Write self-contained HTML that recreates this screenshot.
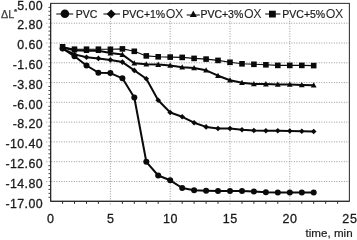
<!DOCTYPE html><html><head><meta charset="utf-8"><title>chart</title>
<style>html,body{margin:0;padding:0;background:#fff;}svg{display:block;font-family:"Liberation Sans",sans-serif;}</style></head><body>
<svg width="357" height="240" viewBox="0 0 357 240">
<rect width="357" height="240" fill="#fff"/>
<line x1="46.35" y1="23.2" x2="349.4" y2="23.2" stroke="#8e8e8e" stroke-width="1" stroke-dasharray="0.9 1.6"/>
<line x1="46.35" y1="43.0" x2="349.4" y2="43.0" stroke="#8e8e8e" stroke-width="1" stroke-dasharray="0.9 1.6"/>
<line x1="46.35" y1="62.8" x2="349.4" y2="62.8" stroke="#8e8e8e" stroke-width="1" stroke-dasharray="0.9 1.6"/>
<line x1="46.35" y1="82.6" x2="349.4" y2="82.6" stroke="#8e8e8e" stroke-width="1" stroke-dasharray="0.9 1.6"/>
<line x1="46.35" y1="102.3" x2="349.4" y2="102.3" stroke="#8e8e8e" stroke-width="1" stroke-dasharray="0.9 1.6"/>
<line x1="46.35" y1="122.1" x2="349.4" y2="122.1" stroke="#8e8e8e" stroke-width="1" stroke-dasharray="0.9 1.6"/>
<line x1="46.35" y1="141.9" x2="349.4" y2="141.9" stroke="#8e8e8e" stroke-width="1" stroke-dasharray="0.9 1.6"/>
<line x1="46.35" y1="161.7" x2="349.4" y2="161.7" stroke="#8e8e8e" stroke-width="1" stroke-dasharray="0.9 1.6"/>
<line x1="46.35" y1="181.5" x2="349.4" y2="181.5" stroke="#8e8e8e" stroke-width="1" stroke-dasharray="0.9 1.6"/>
<line x1="110.4" y1="3.4" x2="110.4" y2="205.8" stroke="#8e8e8e" stroke-width="1" stroke-dasharray="0.9 1.6"/>
<line x1="170.2" y1="3.4" x2="170.2" y2="205.8" stroke="#8e8e8e" stroke-width="1" stroke-dasharray="0.9 1.6"/>
<line x1="230.0" y1="3.4" x2="230.0" y2="205.8" stroke="#8e8e8e" stroke-width="1" stroke-dasharray="0.9 1.6"/>
<line x1="289.8" y1="3.4" x2="289.8" y2="205.8" stroke="#8e8e8e" stroke-width="1" stroke-dasharray="0.9 1.6"/>
<rect x="53" y="5.5" width="294" height="12.7" fill="#fff"/>
<rect x="50.65" y="3.4" width="298.75" height="197.9" fill="none" stroke="#3a3a3a" stroke-width="1.1"/>
<path d="M50.65,3.4 V201.3 H349.4" fill="none" stroke="#262626" stroke-width="1"/>
<line x1="48.449999999999996" y1="7.4" x2="50.65" y2="7.4" stroke="#262626" stroke-width="0.85"/>
<line x1="48.449999999999996" y1="11.3" x2="50.65" y2="11.3" stroke="#262626" stroke-width="0.85"/>
<line x1="48.449999999999996" y1="15.3" x2="50.65" y2="15.3" stroke="#262626" stroke-width="0.85"/>
<line x1="48.449999999999996" y1="19.2" x2="50.65" y2="19.2" stroke="#262626" stroke-width="0.85"/>
<line x1="48.449999999999996" y1="27.1" x2="50.65" y2="27.1" stroke="#262626" stroke-width="0.85"/>
<line x1="48.449999999999996" y1="31.1" x2="50.65" y2="31.1" stroke="#262626" stroke-width="0.85"/>
<line x1="48.449999999999996" y1="35.1" x2="50.65" y2="35.1" stroke="#262626" stroke-width="0.85"/>
<line x1="48.449999999999996" y1="39.0" x2="50.65" y2="39.0" stroke="#262626" stroke-width="0.85"/>
<line x1="48.449999999999996" y1="46.9" x2="50.65" y2="46.9" stroke="#262626" stroke-width="0.85"/>
<line x1="48.449999999999996" y1="50.9" x2="50.65" y2="50.9" stroke="#262626" stroke-width="0.85"/>
<line x1="48.449999999999996" y1="54.9" x2="50.65" y2="54.9" stroke="#262626" stroke-width="0.85"/>
<line x1="48.449999999999996" y1="58.8" x2="50.65" y2="58.8" stroke="#262626" stroke-width="0.85"/>
<line x1="48.449999999999996" y1="66.7" x2="50.65" y2="66.7" stroke="#262626" stroke-width="0.85"/>
<line x1="48.449999999999996" y1="70.7" x2="50.65" y2="70.7" stroke="#262626" stroke-width="0.85"/>
<line x1="48.449999999999996" y1="74.6" x2="50.65" y2="74.6" stroke="#262626" stroke-width="0.85"/>
<line x1="48.449999999999996" y1="78.6" x2="50.65" y2="78.6" stroke="#262626" stroke-width="0.85"/>
<line x1="48.449999999999996" y1="86.5" x2="50.65" y2="86.5" stroke="#262626" stroke-width="0.85"/>
<line x1="48.449999999999996" y1="90.5" x2="50.65" y2="90.5" stroke="#262626" stroke-width="0.85"/>
<line x1="48.449999999999996" y1="94.4" x2="50.65" y2="94.4" stroke="#262626" stroke-width="0.85"/>
<line x1="48.449999999999996" y1="98.4" x2="50.65" y2="98.4" stroke="#262626" stroke-width="0.85"/>
<line x1="48.449999999999996" y1="106.3" x2="50.65" y2="106.3" stroke="#262626" stroke-width="0.85"/>
<line x1="48.449999999999996" y1="110.3" x2="50.65" y2="110.3" stroke="#262626" stroke-width="0.85"/>
<line x1="48.449999999999996" y1="114.2" x2="50.65" y2="114.2" stroke="#262626" stroke-width="0.85"/>
<line x1="48.449999999999996" y1="118.2" x2="50.65" y2="118.2" stroke="#262626" stroke-width="0.85"/>
<line x1="48.449999999999996" y1="126.1" x2="50.65" y2="126.1" stroke="#262626" stroke-width="0.85"/>
<line x1="48.449999999999996" y1="130.1" x2="50.65" y2="130.1" stroke="#262626" stroke-width="0.85"/>
<line x1="48.449999999999996" y1="134.0" x2="50.65" y2="134.0" stroke="#262626" stroke-width="0.85"/>
<line x1="48.449999999999996" y1="138.0" x2="50.65" y2="138.0" stroke="#262626" stroke-width="0.85"/>
<line x1="48.449999999999996" y1="145.9" x2="50.65" y2="145.9" stroke="#262626" stroke-width="0.85"/>
<line x1="48.449999999999996" y1="149.8" x2="50.65" y2="149.8" stroke="#262626" stroke-width="0.85"/>
<line x1="48.449999999999996" y1="153.8" x2="50.65" y2="153.8" stroke="#262626" stroke-width="0.85"/>
<line x1="48.449999999999996" y1="157.8" x2="50.65" y2="157.8" stroke="#262626" stroke-width="0.85"/>
<line x1="48.449999999999996" y1="165.7" x2="50.65" y2="165.7" stroke="#262626" stroke-width="0.85"/>
<line x1="48.449999999999996" y1="169.6" x2="50.65" y2="169.6" stroke="#262626" stroke-width="0.85"/>
<line x1="48.449999999999996" y1="173.6" x2="50.65" y2="173.6" stroke="#262626" stroke-width="0.85"/>
<line x1="48.449999999999996" y1="177.6" x2="50.65" y2="177.6" stroke="#262626" stroke-width="0.85"/>
<line x1="48.449999999999996" y1="185.5" x2="50.65" y2="185.5" stroke="#262626" stroke-width="0.85"/>
<line x1="48.449999999999996" y1="189.4" x2="50.65" y2="189.4" stroke="#262626" stroke-width="0.85"/>
<line x1="48.449999999999996" y1="193.4" x2="50.65" y2="193.4" stroke="#262626" stroke-width="0.85"/>
<line x1="48.449999999999996" y1="197.3" x2="50.65" y2="197.3" stroke="#262626" stroke-width="0.85"/>
<line x1="62.6" y1="201.3" x2="62.6" y2="203.8" stroke="#262626" stroke-width="1"/>
<line x1="74.5" y1="201.3" x2="74.5" y2="203.8" stroke="#262626" stroke-width="1"/>
<line x1="86.5" y1="201.3" x2="86.5" y2="203.8" stroke="#262626" stroke-width="1"/>
<line x1="98.4" y1="201.3" x2="98.4" y2="203.8" stroke="#262626" stroke-width="1"/>
<line x1="122.4" y1="201.3" x2="122.4" y2="203.8" stroke="#262626" stroke-width="1"/>
<line x1="134.3" y1="201.3" x2="134.3" y2="203.8" stroke="#262626" stroke-width="1"/>
<line x1="146.3" y1="201.3" x2="146.3" y2="203.8" stroke="#262626" stroke-width="1"/>
<line x1="158.2" y1="201.3" x2="158.2" y2="203.8" stroke="#262626" stroke-width="1"/>
<line x1="182.2" y1="201.3" x2="182.2" y2="203.8" stroke="#262626" stroke-width="1"/>
<line x1="194.1" y1="201.3" x2="194.1" y2="203.8" stroke="#262626" stroke-width="1"/>
<line x1="206.1" y1="201.3" x2="206.1" y2="203.8" stroke="#262626" stroke-width="1"/>
<line x1="218.0" y1="201.3" x2="218.0" y2="203.8" stroke="#262626" stroke-width="1"/>
<line x1="242.0" y1="201.3" x2="242.0" y2="203.8" stroke="#262626" stroke-width="1"/>
<line x1="253.9" y1="201.3" x2="253.9" y2="203.8" stroke="#262626" stroke-width="1"/>
<line x1="265.9" y1="201.3" x2="265.9" y2="203.8" stroke="#262626" stroke-width="1"/>
<line x1="277.8" y1="201.3" x2="277.8" y2="203.8" stroke="#262626" stroke-width="1"/>
<line x1="301.8" y1="201.3" x2="301.8" y2="203.8" stroke="#262626" stroke-width="1"/>
<line x1="313.7" y1="201.3" x2="313.7" y2="203.8" stroke="#262626" stroke-width="1"/>
<line x1="325.7" y1="201.3" x2="325.7" y2="203.8" stroke="#262626" stroke-width="1"/>
<line x1="337.6" y1="201.3" x2="337.6" y2="203.8" stroke="#262626" stroke-width="1"/>
<text x="43" y="9.7" text-anchor="end" font-size="12.4" letter-spacing="0.4" fill="#1a1a1a" stroke="#1a1a1a" stroke-width="0.3">5.00</text>
<text x="43" y="29.4" text-anchor="end" font-size="12.4" letter-spacing="0.4" fill="#1a1a1a" stroke="#1a1a1a" stroke-width="0.3">2.80</text>
<text x="43" y="49.2" text-anchor="end" font-size="12.4" letter-spacing="0.4" fill="#1a1a1a" stroke="#1a1a1a" stroke-width="0.3">0.60</text>
<text x="43" y="69.0" text-anchor="end" font-size="12.4" letter-spacing="0.4" fill="#1a1a1a" stroke="#1a1a1a" stroke-width="0.3">-1.60</text>
<text x="43" y="88.8" text-anchor="end" font-size="12.4" letter-spacing="0.4" fill="#1a1a1a" stroke="#1a1a1a" stroke-width="0.3">-3.80</text>
<text x="43" y="108.5" text-anchor="end" font-size="12.4" letter-spacing="0.4" fill="#1a1a1a" stroke="#1a1a1a" stroke-width="0.3">-6.00</text>
<text x="43" y="128.3" text-anchor="end" font-size="12.4" letter-spacing="0.4" fill="#1a1a1a" stroke="#1a1a1a" stroke-width="0.3">-8.20</text>
<text x="43" y="148.1" text-anchor="end" font-size="12.4" letter-spacing="0.4" fill="#1a1a1a" stroke="#1a1a1a" stroke-width="0.3">-10.40</text>
<text x="43" y="167.9" text-anchor="end" font-size="12.4" letter-spacing="0.4" fill="#1a1a1a" stroke="#1a1a1a" stroke-width="0.3">-12.60</text>
<text x="43" y="187.7" text-anchor="end" font-size="12.4" letter-spacing="0.4" fill="#1a1a1a" stroke="#1a1a1a" stroke-width="0.3">-14.80</text>
<text x="43" y="207.5" text-anchor="end" font-size="12.4" letter-spacing="0.4" fill="#1a1a1a" stroke="#1a1a1a" stroke-width="0.3">-17.00</text>
<text x="50.9" y="223" text-anchor="middle" font-size="12.5" letter-spacing="0.6" fill="#1a1a1a" stroke="#1a1a1a" stroke-width="0.3">0</text>
<text x="110.7" y="223" text-anchor="middle" font-size="12.5" letter-spacing="0.6" fill="#1a1a1a" stroke="#1a1a1a" stroke-width="0.3">5</text>
<text x="170.5" y="223" text-anchor="middle" font-size="12.5" letter-spacing="0.6" fill="#1a1a1a" stroke="#1a1a1a" stroke-width="0.3">10</text>
<text x="230.3" y="223" text-anchor="middle" font-size="12.5" letter-spacing="0.6" fill="#1a1a1a" stroke="#1a1a1a" stroke-width="0.3">15</text>
<text x="290.1" y="223" text-anchor="middle" font-size="12.5" letter-spacing="0.6" fill="#1a1a1a" stroke="#1a1a1a" stroke-width="0.3">20</text>
<text x="349.9" y="223" text-anchor="middle" font-size="12.5" letter-spacing="0.6" fill="#1a1a1a" stroke="#1a1a1a" stroke-width="0.3">25</text>
<text x="352.6" y="237" text-anchor="end" font-size="11.6" fill="#1a1a1a" stroke="#1a1a1a" stroke-width="0.2">time, min</text>
<text x="1" y="18" font-size="10.8" fill="#3c3c3c" stroke="#3c3c3c" stroke-width="0.25">ΔL<tspan dy="-4" dx="-0.3" font-size="8" font-weight="bold">*</tspan></text>
<polyline points="62.6,46.8 74.5,49.2 86.5,49.2 98.4,49.2 110.4,49.3 122.4,48.9 134.3,51.3 146.3,55.9 158.2,56.8 170.2,57.1 182.2,57.4 194.1,58.4 206.1,59.1 218.0,60.4 230.0,62.3 242.0,63.8 253.9,64.3 265.9,64.8 277.8,65.4 289.8,65.4 301.8,65.4 313.7,65.6" fill="none" stroke="#0a0a0a" stroke-width="1.1" stroke-linejoin="round"/>
<rect x="59.8" y="44.0" width="5.6" height="5.6" fill="#0a0a0a"/>
<rect x="71.7" y="46.4" width="5.6" height="5.6" fill="#0a0a0a"/>
<rect x="83.7" y="46.4" width="5.6" height="5.6" fill="#0a0a0a"/>
<rect x="95.6" y="46.4" width="5.6" height="5.6" fill="#0a0a0a"/>
<rect x="107.6" y="46.5" width="5.6" height="5.6" fill="#0a0a0a"/>
<rect x="119.6" y="46.1" width="5.6" height="5.6" fill="#0a0a0a"/>
<rect x="131.5" y="48.5" width="5.6" height="5.6" fill="#0a0a0a"/>
<rect x="143.5" y="53.1" width="5.6" height="5.6" fill="#0a0a0a"/>
<rect x="155.4" y="54.0" width="5.6" height="5.6" fill="#0a0a0a"/>
<rect x="167.4" y="54.3" width="5.6" height="5.6" fill="#0a0a0a"/>
<rect x="179.4" y="54.6" width="5.6" height="5.6" fill="#0a0a0a"/>
<rect x="191.3" y="55.6" width="5.6" height="5.6" fill="#0a0a0a"/>
<rect x="203.3" y="56.3" width="5.6" height="5.6" fill="#0a0a0a"/>
<rect x="215.2" y="57.6" width="5.6" height="5.6" fill="#0a0a0a"/>
<rect x="227.2" y="59.5" width="5.6" height="5.6" fill="#0a0a0a"/>
<rect x="239.2" y="61.0" width="5.6" height="5.6" fill="#0a0a0a"/>
<rect x="251.1" y="61.5" width="5.6" height="5.6" fill="#0a0a0a"/>
<rect x="263.1" y="62.0" width="5.6" height="5.6" fill="#0a0a0a"/>
<rect x="275.0" y="62.6" width="5.6" height="5.6" fill="#0a0a0a"/>
<rect x="287.0" y="62.6" width="5.6" height="5.6" fill="#0a0a0a"/>
<rect x="299.0" y="62.6" width="5.6" height="5.6" fill="#0a0a0a"/>
<rect x="310.9" y="62.8" width="5.6" height="5.6" fill="#0a0a0a"/>
<polyline points="62.6,47.6 74.5,50.2 86.5,50.7 98.4,50.7 110.4,53.1 122.4,54.6 134.3,63.2 146.3,64.3 158.2,64.6 170.2,65.5 182.2,67.2 194.1,68.0 206.1,70.3 218.0,75.7 230.0,80.2 242.0,82.8 253.9,83.9 265.9,84.1 277.8,84.4 289.8,84.4 301.8,84.9 313.7,85.3" fill="none" stroke="#0a0a0a" stroke-width="2" stroke-linejoin="round"/>
<polygon points="62.6,44.6 65.5,49.9 59.7,49.9" fill="#0a0a0a"/>
<polygon points="74.5,47.2 77.4,52.5 71.6,52.5" fill="#0a0a0a"/>
<polygon points="86.5,47.7 89.4,53.0 83.6,53.0" fill="#0a0a0a"/>
<polygon points="98.4,47.7 101.3,53.0 95.5,53.0" fill="#0a0a0a"/>
<polygon points="110.4,50.1 113.3,55.4 107.5,55.4" fill="#0a0a0a"/>
<polygon points="122.4,51.6 125.3,56.9 119.5,56.9" fill="#0a0a0a"/>
<polygon points="134.3,60.2 137.2,65.5 131.4,65.5" fill="#0a0a0a"/>
<polygon points="146.3,61.3 149.2,66.6 143.4,66.6" fill="#0a0a0a"/>
<polygon points="158.2,61.6 161.1,66.9 155.3,66.9" fill="#0a0a0a"/>
<polygon points="170.2,62.5 173.1,67.8 167.3,67.8" fill="#0a0a0a"/>
<polygon points="182.2,64.2 185.1,69.5 179.3,69.5" fill="#0a0a0a"/>
<polygon points="194.1,65.0 197.0,70.3 191.2,70.3" fill="#0a0a0a"/>
<polygon points="206.1,67.3 209.0,72.6 203.2,72.6" fill="#0a0a0a"/>
<polygon points="218.0,72.7 220.9,78.0 215.1,78.0" fill="#0a0a0a"/>
<polygon points="230.0,77.2 232.9,82.5 227.1,82.5" fill="#0a0a0a"/>
<polygon points="242.0,79.8 244.9,85.1 239.1,85.1" fill="#0a0a0a"/>
<polygon points="253.9,80.9 256.8,86.2 251.0,86.2" fill="#0a0a0a"/>
<polygon points="265.9,81.1 268.8,86.4 263.0,86.4" fill="#0a0a0a"/>
<polygon points="277.8,81.4 280.7,86.7 274.9,86.7" fill="#0a0a0a"/>
<polygon points="289.8,81.4 292.7,86.7 286.9,86.7" fill="#0a0a0a"/>
<polygon points="301.8,81.9 304.7,87.2 298.9,87.2" fill="#0a0a0a"/>
<polygon points="313.7,82.3 316.6,87.6 310.8,87.6" fill="#0a0a0a"/>
<polyline points="62.6,48.6 74.5,54.4 86.5,57.2 98.4,58.4 110.4,59.9 122.4,62.1 134.3,70.4 146.3,78.8 158.2,100.3 170.2,112.5 182.2,116.8 194.1,122.7 206.1,126.9 218.0,128.5 230.0,128.5 242.0,129.7 253.9,130.5 265.9,130.8 277.8,130.7 289.8,131.0 301.8,131.3 313.7,131.5" fill="none" stroke="#0a0a0a" stroke-width="2" stroke-linejoin="round"/>
<polygon points="62.6,45.8 65.4,48.6 62.6,51.4 59.8,48.6" fill="#0a0a0a"/>
<polygon points="74.5,51.6 77.3,54.4 74.5,57.2 71.7,54.4" fill="#0a0a0a"/>
<polygon points="86.5,54.4 89.3,57.2 86.5,60.0 83.7,57.2" fill="#0a0a0a"/>
<polygon points="98.4,55.6 101.2,58.4 98.4,61.2 95.6,58.4" fill="#0a0a0a"/>
<polygon points="110.4,57.1 113.2,59.9 110.4,62.7 107.6,59.9" fill="#0a0a0a"/>
<polygon points="122.4,59.3 125.2,62.1 122.4,64.9 119.6,62.1" fill="#0a0a0a"/>
<polygon points="134.3,67.6 137.1,70.4 134.3,73.2 131.5,70.4" fill="#0a0a0a"/>
<polygon points="146.3,76.0 149.1,78.8 146.3,81.6 143.5,78.8" fill="#0a0a0a"/>
<polygon points="158.2,97.5 161.0,100.3 158.2,103.1 155.4,100.3" fill="#0a0a0a"/>
<polygon points="170.2,109.7 173.0,112.5 170.2,115.3 167.4,112.5" fill="#0a0a0a"/>
<polygon points="182.2,114.0 185.0,116.8 182.2,119.6 179.4,116.8" fill="#0a0a0a"/>
<polygon points="194.1,119.9 196.9,122.7 194.1,125.5 191.3,122.7" fill="#0a0a0a"/>
<polygon points="206.1,124.1 208.9,126.9 206.1,129.7 203.3,126.9" fill="#0a0a0a"/>
<polygon points="218.0,125.7 220.8,128.5 218.0,131.3 215.2,128.5" fill="#0a0a0a"/>
<polygon points="230.0,125.7 232.8,128.5 230.0,131.3 227.2,128.5" fill="#0a0a0a"/>
<polygon points="242.0,126.9 244.8,129.7 242.0,132.5 239.2,129.7" fill="#0a0a0a"/>
<polygon points="253.9,127.7 256.7,130.5 253.9,133.3 251.1,130.5" fill="#0a0a0a"/>
<polygon points="265.9,128.0 268.7,130.8 265.9,133.6 263.1,130.8" fill="#0a0a0a"/>
<polygon points="277.8,127.9 280.6,130.7 277.8,133.5 275.0,130.7" fill="#0a0a0a"/>
<polygon points="289.8,128.2 292.6,131.0 289.8,133.8 287.0,131.0" fill="#0a0a0a"/>
<polygon points="301.8,128.5 304.6,131.3 301.8,134.1 299.0,131.3" fill="#0a0a0a"/>
<polygon points="313.7,128.7 316.5,131.5 313.7,134.3 310.9,131.5" fill="#0a0a0a"/>
<polyline points="62.6,48.4 74.5,56.3 86.5,65.5 98.4,72.7 110.4,73.1 122.4,78.3 134.3,97.5 146.3,161.8 158.2,175.5 170.2,180.3 182.2,188.0 194.1,190.2 206.1,190.7 218.0,191.0 230.0,191.0 242.0,191.0 253.9,191.5 265.9,192.2 277.8,192.4 289.8,192.5 301.8,192.6 313.7,192.6" fill="none" stroke="#0a0a0a" stroke-width="2" stroke-linejoin="round"/>
<circle cx="62.6" cy="48.4" r="3" fill="#0a0a0a"/>
<circle cx="74.5" cy="56.3" r="3" fill="#0a0a0a"/>
<circle cx="86.5" cy="65.5" r="3" fill="#0a0a0a"/>
<circle cx="98.4" cy="72.7" r="3" fill="#0a0a0a"/>
<circle cx="110.4" cy="73.1" r="3" fill="#0a0a0a"/>
<circle cx="122.4" cy="78.3" r="3" fill="#0a0a0a"/>
<circle cx="134.3" cy="97.5" r="3" fill="#0a0a0a"/>
<circle cx="146.3" cy="161.8" r="3" fill="#0a0a0a"/>
<circle cx="158.2" cy="175.5" r="3" fill="#0a0a0a"/>
<circle cx="170.2" cy="180.3" r="3" fill="#0a0a0a"/>
<circle cx="182.2" cy="188.0" r="3" fill="#0a0a0a"/>
<circle cx="194.1" cy="190.2" r="3" fill="#0a0a0a"/>
<circle cx="206.1" cy="190.7" r="3" fill="#0a0a0a"/>
<circle cx="218.0" cy="191.0" r="3" fill="#0a0a0a"/>
<circle cx="230.0" cy="191.0" r="3" fill="#0a0a0a"/>
<circle cx="242.0" cy="191.0" r="3" fill="#0a0a0a"/>
<circle cx="253.9" cy="191.5" r="3" fill="#0a0a0a"/>
<circle cx="265.9" cy="192.2" r="3" fill="#0a0a0a"/>
<circle cx="277.8" cy="192.4" r="3" fill="#0a0a0a"/>
<circle cx="289.8" cy="192.5" r="3" fill="#0a0a0a"/>
<circle cx="301.8" cy="192.6" r="3" fill="#0a0a0a"/>
<circle cx="313.7" cy="192.6" r="3" fill="#0a0a0a"/>
<line x1="56.3" y1="14" x2="73.2" y2="14" stroke="#0a0a0a" stroke-width="1.05"/><circle cx="64.9" cy="13.8" r="4.3" fill="#0a0a0a"/>
<text x="75.8" y="18" font-size="10.5" fill="#1a1a1a" stroke="#1a1a1a" stroke-width="0.2">PVC</text>
<line x1="103.4" y1="14" x2="120" y2="14" stroke="#0a0a0a" stroke-width="1.05"/><polygon points="111.2,9.5 115.7,14 111.2,18.5 106.7,14" fill="#0a0a0a"/>
<text x="122.3" y="18" font-size="10.5" fill="#1a1a1a" stroke="#1a1a1a" stroke-width="0.2">PVC+1%<tspan font-size="12.4" dx="0.6" dy="-0.5" letter-spacing="-0.35" fill="#2a2a2a" stroke="none">OX</tspan></text>
<line x1="186.7" y1="15" x2="199.8" y2="15" stroke="#0a0a0a" stroke-width="1.05"/><polygon points="193.3,10.5 196.8,17 189.8,17" fill="#0a0a0a"/>
<text x="200.4" y="18" font-size="10.5" fill="#1a1a1a" stroke="#1a1a1a" stroke-width="0.2">PVC+3%<tspan font-size="12.4" dx="0.6" dy="-0.5" letter-spacing="-0.35" fill="#2a2a2a" stroke="none">OX</tspan></text>
<line x1="265.2" y1="14" x2="280.4" y2="14" stroke="#0a0a0a" stroke-width="1.05"/><rect x="269" y="10.7" width="6.8" height="6.8" fill="#0a0a0a"/>
<text x="282.3" y="18" font-size="10.5" fill="#1a1a1a" stroke="#1a1a1a" stroke-width="0.2">PVC+5%<tspan font-size="12.4" dx="0.6" dy="-0.5" letter-spacing="-0.35" fill="#2a2a2a" stroke="none">OX</tspan></text>
</svg></body></html>
